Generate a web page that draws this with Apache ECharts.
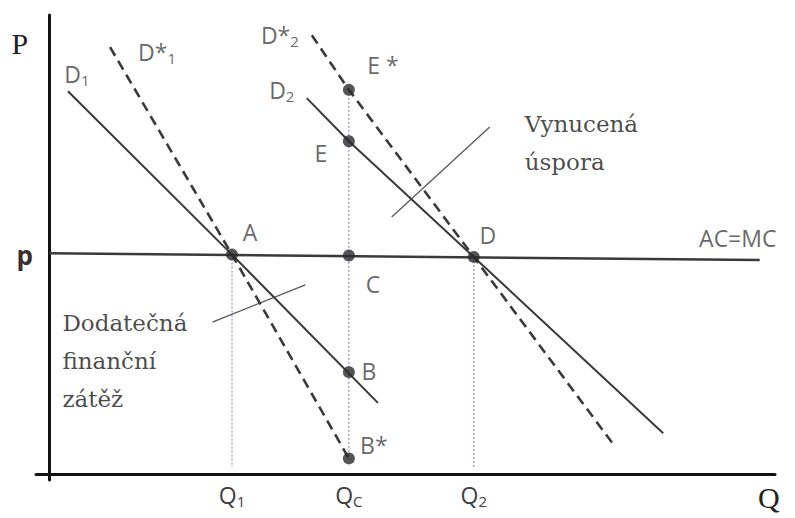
<!DOCTYPE html>
<html lang="cs">
<head>
<meta charset="UTF-8">
<title>Vynucená úspora a dodatečná finanční zátěž</title>
<script src="https://cdn.jsdelivr.net/npm/echarts@6.0.0/dist/echarts.min.js"></script>
<style>
    html, body { margin: 0; padding: 0; background: #fff; }
    #chart { width: 795px; height: 518px; }
</style>
</head>
<body>
<div id="chart"></div>
<script>
// hodnoty (Q i P v rozsahu 0..100)
var qLevels = [25.2, 41.3, 58.5];                 // Q1, Qc, Q2
var qLabels = ['Q{s|1}', 'Q{s|C}', 'Q{s|2}'];
var pLevel = 47.8;

var acmc = [[0, 48.1], [97.9, 46.6]];
var d1 = [[2.6, 83.4], [25.2, 47.8], [45.3, 15.5]];
var d1Star = [[8.4, 93.0], [25.2, 47.8], [41.3, 3.4]];
var d2 = [[35.5, 81.9], [41.3, 72.5], [58.5, 47.3], [84.6, 8.9]];
var d2Star = [[36.2, 95.6], [41.3, 83.7], [58.5, 47.3], [78.0, 5.9]];

var curveNames = ['AC=MC', 'D{s|1}', 'D*{s|1}', 'D{s|2}', 'D*{s|2}'];

var pointNames = ['A', 'C', 'D', 'E', 'E *', 'B', 'B*'];
var pointQ = [25.2, 41.3, 58.5, 41.3, 41.3, 41.3, 41.3];
var pointP = [47.8, 47.6, 47.3, 72.5, 83.7, 22.2, 3.4];

// svislé tečkované čáry: horní a dolní konec
var guideTop = [47.8, 83.7, 47.3];
var guideBottom = [1.5, 3.4, 1.3];

var pointerVyn = [[47.2, 56.0], [60.7, 75.6]];
var pointerDod = [[22.5, 33.1], [35.3, 41.2]];

// posuny popisků (px)
var pointOffset = {
    'A': [18, -23], 'C': [24, 28], 'D': [14, -22], 'E': [-28, 12],
    'E *': [34, -25], 'B': [20, -1], 'B*': [25, -13]
};
var curveOffset = [[-22, -22], [9, -17], [47, 5], [-25, -8], [-32, 0]];

var ink = '#3a3a3a';
var labelGray = '#3f3f3f';
var sansFont = '"Open Sans", "Noto Sans", sans-serif';
var serifFont = '"DejaVu Serif", serif';
var subRich = { s: { fontSize: 15, padding: [12, 0, 0, 0], fontFamily: sansFont, color: labelGray } };

function curve(data, dashed) {
    return {
        type: 'line',
        data: data,
        symbol: 'none',
        lineStyle: { color: ink, width: dashed ? 2.6 : 2, type: dashed ? [10, 6] : 'solid' },
        z: 3
    };
}

var chart = echarts.init(document.getElementById('chart'), null, { renderer: 'svg' });

var series = [
    curve(acmc, false),
    curve(d1, false),
    curve(d1Star, true),
    curve(d2, false),
    curve(d2Star, true)
];
series[0].lineStyle.width = 2.5;

// popisky křivek: AC=MC u pravého konce, poptávky u horního začátku
var curveAnchors = [acmc[1], d1[0], d1Star[0], d2[0], d2Star[0]];
series.push({
    type: 'scatter',
    symbolSize: 0,
    data: curveNames.map(function (n, i) {
        return { value: curveAnchors[i], label: { formatter: n, offset: curveOffset[i] } };
    }),
    label: {
        show: true, position: 'inside',
        fontFamily: sansFont, fontSize: 23, color: labelGray, rich: subRich
    },
    z: 4
});

qLevels.forEach(function (q, i) {
    series.push({
        type: 'line',
        data: [[q, guideTop[i]], [q, guideBottom[i]]],
        symbol: 'none',
        lineStyle: { color: '#7a74b8', width: 1, type: [2, 2] },
        z: 2
    });
});

[pointerVyn, pointerDod].forEach(function (p) {
    series.push({
        type: 'line',
        data: p,
        symbol: 'none',
        lineStyle: { color: '#555', width: 1.2 },
        z: 2
    });
});

series.push({
    type: 'scatter',
    symbolSize: 12,
    itemStyle: { color: '#2a2a2a' },
    data: pointNames.map(function (n, i) {
        return { name: n, value: [pointQ[i], pointP[i]], label: { offset: pointOffset[n] } };
    }),
    label: {
        show: true, position: 'inside', formatter: '{b}',
        fontFamily: sansFont, fontSize: 23, color: labelGray
    },
    z: 5
});

series.push({
    type: 'scatter',
    symbolSize: 0,
    data: [
        { value: pointerVyn[1], label: { position: [35, -22], formatter: 'Vynucená\núspora' } },
        { value: pointerDod[0], label: { position: [-150, -18], formatter: 'Dodatečná\nfinanční\nzátěž' } }
    ],
    label: {
        show: true, align: 'left', verticalAlign: 'top',
        fontFamily: serifFont, fontSize: 23, lineHeight: 38, color: '#1a1a1a'
    },
    z: 4
});

chart.setOption({
    animation: false,
    grid: { left: 36, right: 20, top: 15, bottom: 38 },
    xAxis: {
        type: 'value', min: -1.8, max: 100,
        name: 'Q', nameLocation: 'end', nameGap: -17,
        nameTextStyle: { fontFamily: '"Liberation Serif", serif', fontSize: 30, color: '#222', align: 'left', verticalAlign: 'top', padding: [8, 0, 0, 0] },
        axisLine: { onZero: true, lineStyle: { color: '#111', width: 3 } },
        axisTick: { show: false },
        splitLine: { show: false },
        axisLabel: {
            customValues: qLevels,
            formatter: function (v) { return qLabels[qLevels.indexOf(v)]; },
            fontFamily: sansFont, fontSize: 23, color: labelGray, margin: 1,
            rich: subRich
        }
    },
    yAxis: {
        type: 'value', min: -1.3, max: 100,
        name: 'P', nameLocation: 'end', nameGap: -13,
        nameTextStyle: { fontFamily: '"Liberation Serif", serif', fontSize: 30, color: '#222', align: 'right', verticalAlign: 'top', padding: [0, 21, 0, 0] },
        axisLine: { onZero: true, lineStyle: { color: '#111', width: 3 } },
        axisTick: { show: false },
        splitLine: { show: false },
        axisLabel: {
            customValues: [pLevel],
            formatter: function () { return 'p'; },
            fontFamily: sansFont, fontSize: 26, fontWeight: 'bold', color: '#3b2e2e', margin: 3
        }
    },
    series: series
});
</script>
</body>
</html>
